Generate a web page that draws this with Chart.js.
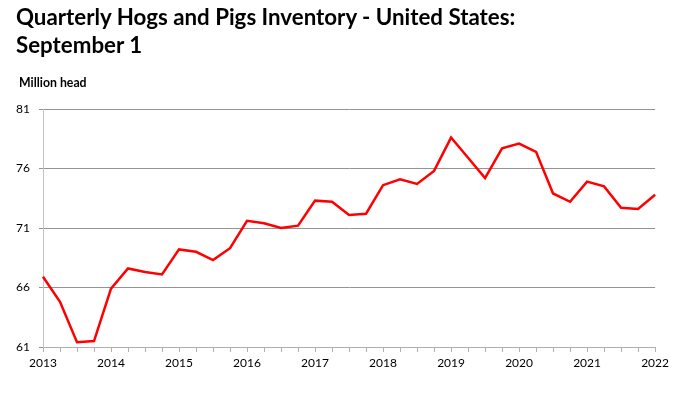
<!DOCTYPE html>
<html>
<head>
<meta charset="utf-8">
<script src="https://cdn.jsdelivr.net/npm/chart.js@4"></script>
<style>
  body { margin: 0; background: #fff; }
  #wrap { position: relative; width: 673px; height: 395px; }
  #chart { position: absolute; left: 0; top: 0; }
  .title { position: absolute; left: 16px; top: 3px; font: bold 22.3px Lato, sans-serif; line-height: 28px; color: #000; }
  .unit { position: absolute; left: 19px; top: 75px; font: bold 12.3px Lato, sans-serif; color: #000; }
</style>
</head>
<body>
<div id="wrap">
  <canvas id="chart" width="673" height="395"></canvas>
  <div class="title">Quarterly Hogs and Pigs Inventory - United States:<br>September 1</div>
  <div class="unit">Million head</div>
</div>
<script>
// one label per quarter, year shown on the first quarter only
const years = [2013, 2014, 2015, 2016, 2017, 2018, 2019, 2020, 2021, 2022];
const quarterLabels = [];
years.forEach((y, i) => {
    quarterLabels.push(String(y));
    if (i < years.length - 1) quarterLabels.push('', '', '');
});

// million head, Mar/Jun/Sep/Dec inventories
const inventory = [
    66.9, 64.8, 61.4, 61.5,
    65.9, 67.6, 67.3, 67.1,
    69.2, 69.0, 68.3, 69.3,
    71.6, 71.4, 71.0, 71.2,
    73.3, 73.2, 72.1, 72.2,
    74.6, 75.1, 74.7, 75.8,
    78.6, 76.9, 75.2, 77.7,
    78.1, 77.4, 73.9, 73.2,
    74.9, 74.5, 72.7, 72.6,
    73.8
];

const yTicks = [61, 66, 71, 76, 81];

const ctx = document.getElementById('chart').getContext('2d');
new Chart(ctx, {
    type: 'line',
    data: {
        labels: quarterLabels,
        datasets: [{
            data: inventory,
            borderColor: '#ff0000',
            borderWidth: 2.5,
            pointRadius: 0,
            tension: 0,
            fill: false
        }]
    },
    options: {
        responsive: false,
        animation: false,
        layout: { padding: { left: 0, right: 17, top: 109, bottom: 0 } },
        plugins: { legend: { display: false }, tooltip: { enabled: false } },
        scales: {
            x: {
                offset: false,
                grid: { drawOnChartArea: false, drawTicks: true, tickLength: 5, color: '#b0b0b0' },
                border: { color: '#b0b0b0' },
                ticks: {
                    autoSkip: false, maxRotation: 0, minRotation: 0,
                    color: '#000', padding: 4,
                    font: { family: 'Lato', size: 12 }
                },
                afterFit: s => { s.height = 48; }
            },
            y: {
                min: yTicks[0],
                max: yTicks[yTicks.length - 1],
                afterBuildTicks: s => { s.ticks = yTicks.map(v => ({ value: v })); },
                grid: { color: '#939393', tickLength: 4 },
                border: { color: '#c4c4c4' },
                ticks: {
                    color: '#000', padding: 9,
                    font: { family: 'Lato', size: 12 }
                },
                afterFit: s => { s.width = 43; }
            }
        }
    }
});
</script>
</body>
</html>
